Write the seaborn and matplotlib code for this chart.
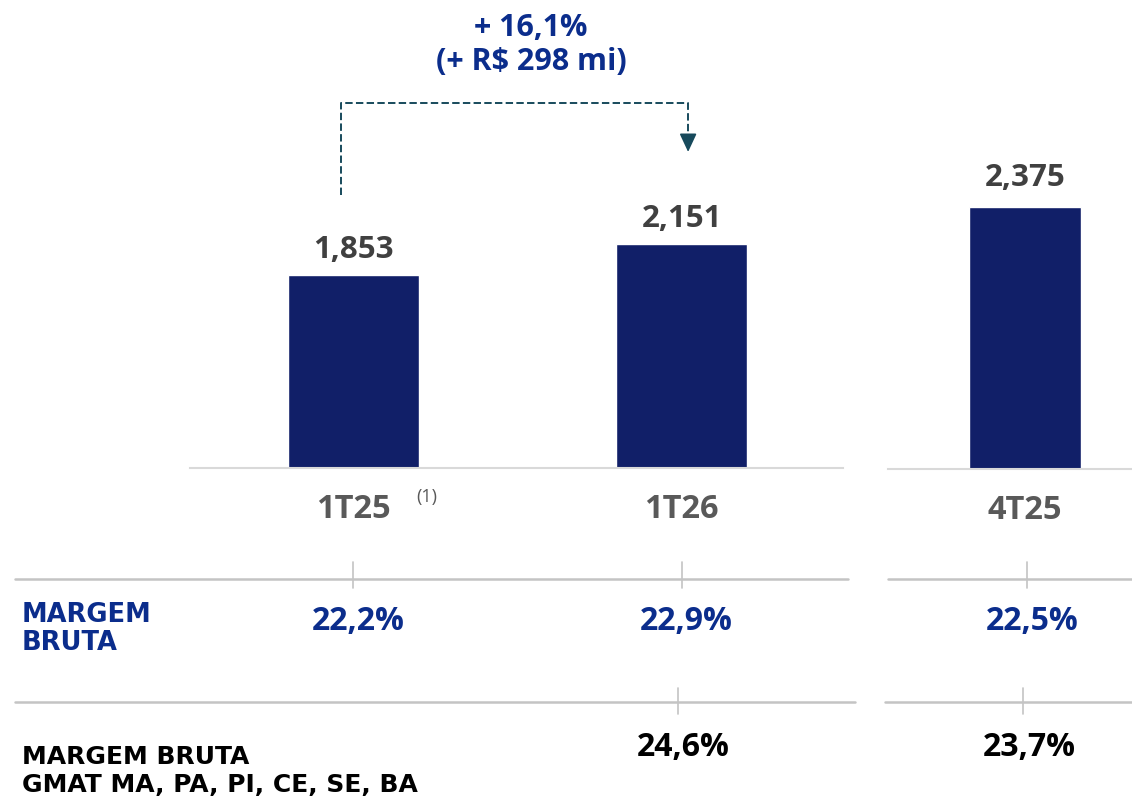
import matplotlib
matplotlib.use("Agg")
import matplotlib.pyplot as plt
import matplotlib.transforms as mtransforms
from matplotlib.lines import Line2D
import seaborn as sns
import pandas as pd

# dados (R$ milhões)
periodos_esq = ["1T25", "1T26"]
receita_esq = [1853, 2151]
periodos_dir = ["4T25"]
receita_dir = [2375]

margem_esq = ["22,2%", "22,9%"]
margem_dir = ["22,5%"]
gmat_esq = [None, "24,6%"]
gmat_dir = ["23,7%"]

variacao_txt = "+ 16,1%\n(+ R$ 298 mi)"

AZUL_BARRA = "#111F68"
AZUL_TXT = "#0B2D8C"
CINZA_VAL = "#404040"
CINZA_CAT = "#595959"
CINZA_LINHA = "#C4C4C4"
SETA = "#174A5C"
FONTE = "Open Sans"
FONTE_ROT = "DejaVu Sans"

sns.set_theme(style="white")
plt.rcParams["font.family"] = [FONTE, "DejaVu Sans"]

W, H = 1132, 798
fig = plt.figure(figsize=(W / 100, H / 100), dpi=100)

ax1 = fig.add_axes([190 / W, 1 - 468 / H, 653 / W, 468 / H])
ax2 = fig.add_axes([888 / W, 1 - 469 / H, 244 / W, 469 / H])

df_esq = pd.DataFrame({"periodo": periodos_esq, "receita": receita_esq})
df_dir = pd.DataFrame({"periodo": periodos_dir, "receita": receita_dir})

sns.barplot(data=df_esq, x="periodo", y="receita", ax=ax1, color=AZUL_BARRA,
            width=0.4, saturation=1)
sns.barplot(data=df_dir, x="periodo", y="receita", ax=ax2, color=AZUL_BARRA,
            width=0.4, saturation=1)

ax1.set_xlim(-0.498, 1.492); ax1.set_ylim(0, 4491)
ax2.set_xlim(-0.489, 0.382); ax2.set_ylim(0, 4252)

for ax, vals, pad in [(ax1, receita_esq, 7), (ax2, receita_dir, 10)]:
    ax.set_xlabel(""); ax.set_ylabel("")
    ax.set_yticks([])
    for s in ["top", "left", "right"]:
        ax.spines[s].set_visible(False)
    ax.spines["bottom"].set_color("#D9D9D9")
    ax.spines["bottom"].set_linewidth(1.5)
    ax.tick_params(axis="x", length=0, pad=18, labelsize=23.5, labelcolor=CINZA_CAT)
    for lab in ax.get_xticklabels():
        lab.set_fontweight("bold")
    ax.bar_label(ax.containers[0], labels=[f"{v:,}" for v in vals], padding=pad,
                 fontsize=22.5, fontweight="bold", color=CINZA_VAL)
    ax.patch.set_alpha(0)

# nota (1)
tr1 = mtransforms.blended_transform_factory(ax1.transData, fig.transFigure)
ax1.text(0.224, 1 - 497 / H, "(1)", transform=tr1, ha="center", va="center",
         fontsize=13, color=CINZA_CAT)

# seta tracejada de variação
x0, x1 = -0.038, 1.02
ax1.plot([x0, x0, x1, x1], [2620, 3503, 3503, 3177], color=SETA, lw=1.4,
         linestyle=(0, (3.8, 1.7)), clip_on=False)
ax1.annotate("", xy=(x1, 3033), xytext=(x1, 3190),
             arrowprops=dict(arrowstyle="-|>,head_length=0.75,head_width=0.35",
                             color=SETA, lw=1.2, mutation_scale=15,
                             shrinkA=0, shrinkB=0),
             annotation_clip=False)
fig.text(531 / W, 1 - 45 / H, variacao_txt, ha="center", va="center",
         fontsize=22, fontweight="bold", color=AZUL_TXT, linespacing=1.15)

# tabela de margens
tr2 = mtransforms.blended_transform_factory(ax2.transData, fig.transFigure)

def linha(xa, xb, y):
    fig.add_artist(Line2D([xa / W, xb / W], [1 - y / H, 1 - y / H],
                          transform=fig.transFigure, color=CINZA_LINHA, lw=1.8))

def tique(tr, x, ya, yb):
    fig.add_artist(Line2D([x, x], [1 - ya / H, 1 - yb / H], transform=tr,
                          color=CINZA_LINHA, lw=1.2))

linha(15, 848, 579); linha(888, 1132, 579)
linha(15, 855, 702); linha(885, 1132, 702)

for i, _ in enumerate(periodos_esq):
    tique(tr1, i, 562, 588)
    ax1.text(i + 0.015, 1 - 621 / H, margem_esq[i], transform=tr1, ha="center",
             va="center", fontsize=23, fontweight="bold", color=AZUL_TXT)
    if gmat_esq[i]:
        tique(tr1, i - 0.012, 688, 714)
        ax1.text(i + 0.005, 1 - 747 / H, gmat_esq[i], transform=tr1, ha="center",
                 va="center", fontsize=23, fontweight="bold", color="#000000")

for i, _ in enumerate(periodos_dir):
    tique(tr2, i + 0.007, 562, 588)
    ax2.text(i + 0.025, 1 - 621 / H, margem_dir[i], transform=tr2, ha="center",
             va="center", fontsize=23, fontweight="bold", color=AZUL_TXT)
    tique(tr2, i - 0.007, 688, 714)
    ax2.text(i + 0.015, 1 - 747 / H, gmat_dir[i], transform=tr2, ha="center",
             va="center", fontsize=23, fontweight="bold", color="#000000")

fig.text(22 / W, 1 - 629 / H, "MARGEM\nBRUTA", ha="left", va="center",
         fontsize=18.5, fontweight="bold", color=AZUL_TXT, family=FONTE_ROT,
         linespacing=1.1)
fig.text(22 / W, 1 - 771 / H, "MARGEM BRUTA\nGMAT MA, PA, PI, CE, SE, BA",
         ha="left", va="center", fontsize=18, fontweight="bold",
         color="#000000", family=FONTE_ROT, linespacing=1.2)

fig.savefig("out.png", dpi=100)
